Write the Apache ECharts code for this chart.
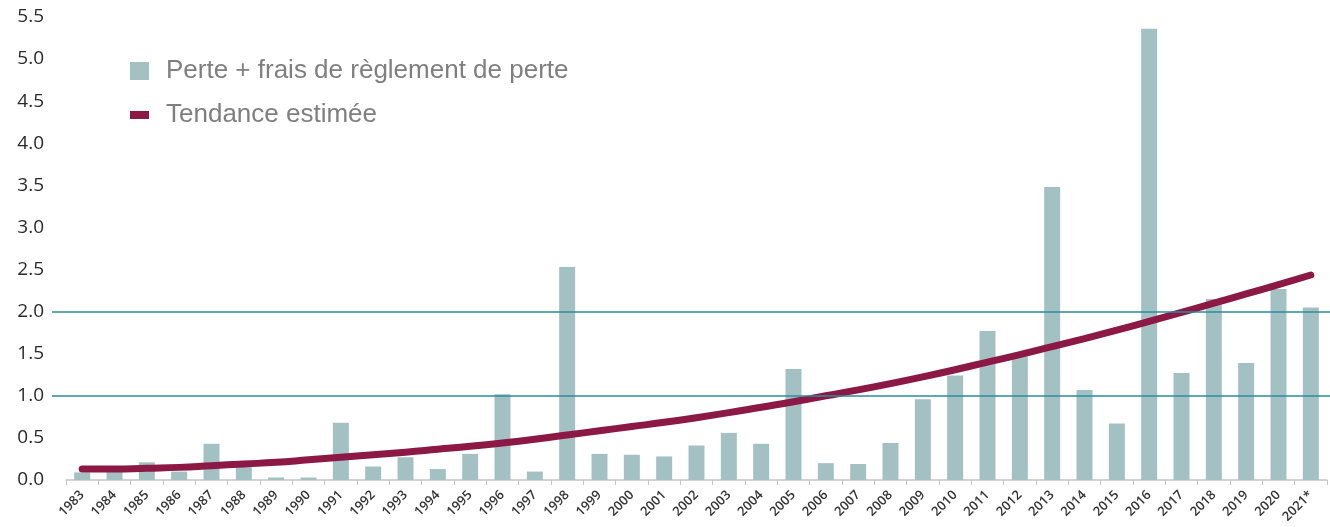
<!DOCTYPE html>
<html>
<head>
<meta charset="utf-8">
<script src="https://cdn.jsdelivr.net/npm/echarts@6/dist/echarts.min.js"></script>
<style>
  html, body { margin: 0; padding: 0; background: #fff; }
  #chart { width: 1330px; height: 527px; }
</style>
</head>
<body>
<div id="chart"></div>
<script>
// --- data ---------------------------------------------------------------
var years = ['1983','1984','1985','1986','1987','1988','1989','1990','1991','1992',
	'1993','1994','1995','1996','1997','1998','1999','2000','2001','2002',
	'2003','2004','2005','2006','2007','2008','2009','2010','2011','2012',
	'2013','2014','2015','2016','2017','2018','2019','2020','2021*'];

var pertes = [0.09, 0.10, 0.21, 0.10, 0.43, 0.17, 0.03, 0.03, 0.68, 0.16,
	0.27, 0.13, 0.31, 1.02, 0.10, 2.53, 0.31, 0.30, 0.28, 0.41,
	0.56, 0.43, 1.32, 0.20, 0.19, 0.44, 0.96, 1.24, 1.77, 1.47,
	3.48, 1.07, 0.67, 5.36, 1.27, 2.15, 1.39, 2.27, 2.05];

var tendance = [0.13, 0.13, 0.14, 0.15, 0.17, 0.19, 0.21, 0.24, 0.27, 0.30,
	0.33, 0.365, 0.40, 0.44, 0.485, 0.535, 0.585, 0.635, 0.685, 0.74,
	0.80, 0.865, 0.93, 1.00, 1.07, 1.145, 1.225, 1.31, 1.40, 1.49,
	1.585, 1.68, 1.78, 1.885, 1.99, 2.10, 2.21, 2.32, 2.435];

var refLines = [1.0, 2.0];

var nomPertes = 'Perte + frais de règlement de perte';
var nomTendance = 'Tendance estimée';

// --- chart --------------------------------------------------------------
var eChart = echarts.init(document.getElementById('chart'));

var legendText = {
	color: '#7f7f7f',
	fontSize: 26,
	fontFamily: 'Liberation Sans, Arial, sans-serif',
	padding: [0, 0, 0, 12]
};

var eChartOption = {
	animation: false,
	legend: [
		{
			data: [nomPertes],
			orient: 'vertical',
			left: 125,
			top: 53,
			icon: 'rect',
			itemWidth: 19,
			itemHeight: 18,
			textStyle: legendText
		},
		{
			data: [nomTendance],
			orient: 'vertical',
			left: 125,
			top: 97,
			icon: 'rect',
			itemWidth: 19,
			itemHeight: 8,
			textStyle: legendText
		}
	],
	grid: [
		{ left: 66, right: 3, top: 17, bottom: 47 },
		{ left: 52, right: 0, top: 17, bottom: 47 }
	],
	xAxis: [
		{
			type: 'category',
			gridIndex: 0,
			data: years,
			axisLine: { lineStyle: { color: '#c4c4c4', width: 1.5 } },
			axisTick: { show: true, length: 5, lineStyle: { color: '#c4c4c4' } },
			axisLabel: {
				rotate: 45,
				interval: 0,
				margin: 13,
				color: '#333',
				fontSize: 13,
				fontWeight: 600,
				fontFamily: 'Open Sans, sans-serif'
			}
		},
		{
			type: 'value',
			gridIndex: 1,
			min: 0,
			max: 1,
			show: false
		}
	],
	yAxis: [
		{
			type: 'value',
			gridIndex: 0,
			min: 0,
			max: 5.5,
			interval: 0.5,
			axisLine: { show: false },
			axisTick: { show: false },
			splitLine: { show: false },
			axisLabel: {
				margin: 22,
				color: '#2a2a2a',
				fontSize: 19,
				fontFamily: 'Open Sans, sans-serif',
				formatter: function (v) { return v.toFixed(1); }
			}
		},
		{
			type: 'value',
			gridIndex: 1,
			min: 0,
			max: 5.5,
			show: false
		}
	],
	series: [
		{
			name: nomPertes,
			type: 'bar',
			xAxisIndex: 0,
			yAxisIndex: 0,
			data: pertes,
			barWidth: 16,
			itemStyle: { color: '#a3c1c3' },
			z: 2
		},
		{
			name: nomTendance,
			type: 'line',
			xAxisIndex: 0,
			yAxisIndex: 0,
			data: tendance,
			smooth: true,
			symbol: 'none',
			lineStyle: { color: '#8c1846', width: 7, cap: 'round' },
			itemStyle: { color: '#8c1846' },
			z: 4
		},
		{
			name: 'ref',
			type: 'line',
			xAxisIndex: 1,
			yAxisIndex: 1,
			data: [],
			silent: true,
			z: 3,
			markLine: {
				silent: true,
				symbol: 'none',
				label: { show: false },
				lineStyle: { color: '#2a8c9c', width: 1.5, type: 'solid' },
				data: refLines.map(function (v) { return { yAxis: v }; })
			}
		}
	]
};

eChart.setOption(eChartOption);
</script>
</body>
</html>
